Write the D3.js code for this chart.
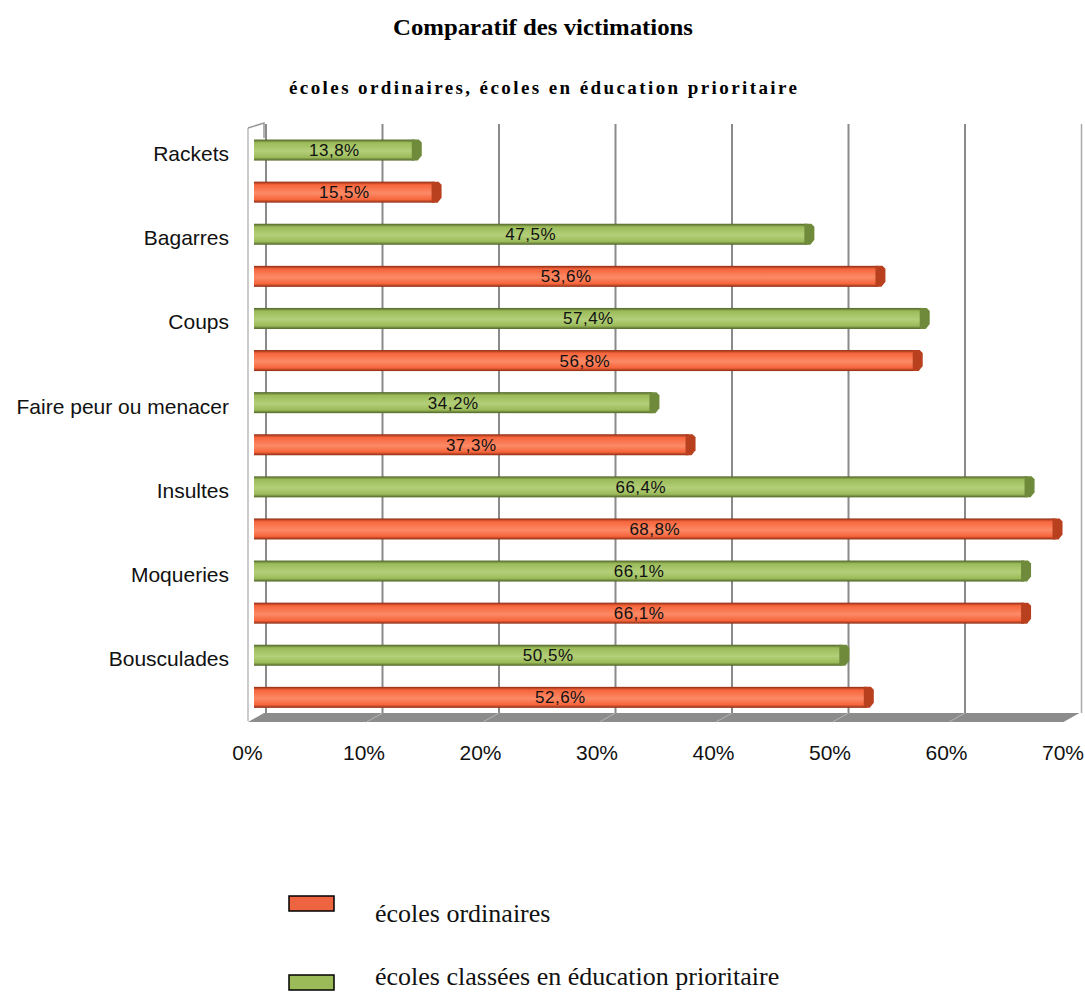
<!DOCTYPE html>
<html>
<head>
<meta charset="utf-8">
<script src="https://cdn.jsdelivr.net/npm/d3@7"></script>
<style>
  body { margin: 0; background: #fff; }
</style>
</head>
<body>
<div id="chart"></div>
<script>
// data
var categories = ["Rackets", "Bagarres", "Coups", "Faire peur ou menacer", "Insultes", "Moqueries", "Bousculades"];
var prioritaire = [13.8, 47.5, 57.4, 34.2, 66.4, 66.1, 50.5];
var ordinaires = [15.5, 53.6, 56.8, 37.3, 68.8, 66.1, 52.6];
var seriesNames = ["écoles classées en éducation prioritaire", "écoles ordinaires"];
var tickValues = [0, 10, 20, 30, 40, 50, 60, 70];

var width = 1085,
    height = 992,
    floorY = 713;

var svg = d3.select("#chart").append("svg")
    .attr("width", width)
    .attr("height", height);

var x = d3.scaleLinear()
    .domain([0, 70])
    .range([254, 1069.5]);

var y = d3.scaleBand()
    .domain(categories)
    .range([129, 718.4])
    .paddingInner(0)
    .paddingOuter(0);

var y1 = d3.scaleBand()
    .domain(["prio", "ord"])
    .range([0, y.bandwidth()]);

var colors = {
    prio: { fill: "#9bbb59", light: "#b3cf79", dark: "#4f6228", cap: "#6e8a3a" },
    ord: { fill: "#f7653c", light: "#fb8a66", dark: "#8b2b12", cap: "#b8401f" }
};

var defs = svg.append("defs");
["prio", "ord"].forEach(function(k) {
    var g = defs.append("linearGradient")
        .attr("id", "grad-" + k)
        .attr("x1", 0).attr("y1", 0).attr("x2", 0).attr("y2", 1);
    g.append("stop").attr("offset", "0%").attr("stop-color", colors[k].dark);
    g.append("stop").attr("offset", "15%").attr("stop-color", colors[k].fill);
    g.append("stop").attr("offset", "55%").attr("stop-color", colors[k].light);
    g.append("stop").attr("offset", "85%").attr("stop-color", colors[k].fill);
    g.append("stop").attr("offset", "100%").attr("stop-color", colors[k].dark);
});

// titles
svg.append("text")
    .attr("x", 543)
    .attr("y", 35)
    .attr("text-anchor", "middle")
    .attr("font-family", "Liberation Serif, Times New Roman, serif")
    .attr("font-weight", "bold")
    .attr("font-size", 23)
    .attr("textLength", 300)
    .attr("lengthAdjust", "spacingAndGlyphs")
    .text("Comparatif des victimations");

svg.append("text")
    .attr("x", 543)
    .attr("y", 94)
    .attr("text-anchor", "middle")
    .attr("font-family", "Liberation Serif, Times New Roman, serif")
    .attr("font-weight", "bold")
    .attr("font-size", 19)
    .attr("textLength", 508)
    .text("écoles ordinaires, écoles en éducation prioritaire");

// back wall + floor
var plotTop = y.range()[0] - 5;
var x0 = x(0), xEnd = x(70);

svg.append("path")
    .attr("d", "M" + (x0 - 6) + "," + (plotTop + 4) + " L" + (x0 + 10) + "," + (plotTop - 1) +
        " L" + (x0 + 10) + "," + (plotTop + 14))
    .attr("fill", "none")
    .attr("stroke", "#999")
    .attr("stroke-width", 1.5);

svg.append("line")
    .attr("x1", x0 - 6).attr("x2", x0 - 6)
    .attr("y1", plotTop + 4).attr("y2", floorY + 8)
    .attr("stroke", "#999");

svg.append("path")
    .attr("d", "M" + (x0 + 10) + "," + floorY + " L" + (xEnd + 10) + "," + floorY +
        " L" + (xEnd - 6) + "," + (floorY + 9) + " L" + (x0 - 6) + "," + (floorY + 9) + " Z")
    .attr("fill", "#8c8c8c");

svg.selectAll(".floorTick")
    .data(tickValues.slice(1, -1))
    .enter().append("line")
    .attr("class", "floorTick")
    .attr("x1", function(d) { return x(d) + 12; })
    .attr("x2", function(d) { return x(d) - 4; })
    .attr("y1", floorY)
    .attr("y2", floorY + 9)
    .attr("stroke", "#b5b5b5");

svg.selectAll(".grid")
    .data(tickValues)
    .enter().append("line")
    .attr("class", "grid")
    .attr("x1", function(d) { return x(d) + 12; })
    .attr("x2", function(d) { return x(d) + 12; })
    .attr("y1", plotTop)
    .attr("y2", floorY)
    .attr("stroke", function(d) { return d === 70 ? "#aaa" : "#8a8a8a"; })
    .attr("stroke-width", function(d) { return d === 70 ? 1.5 : 2; });

// bars
var rows = [];
categories.forEach(function(c, i) {
    rows.push({ cat: c, key: "prio", value: prioritaire[i] });
    rows.push({ cat: c, key: "ord", value: ordinaires[i] });
});

var barH = 21;
function barTop(d) {
    return y(d.cat) + y1(d.key) + (y1.bandwidth() - barH) / 2;
}

var bars = svg.selectAll(".bar")
    .data(rows)
    .enter().append("g")
    .attr("class", "bar");

bars.append("rect")
    .attr("x", x(0))
    .attr("y", barTop)
    .attr("width", function(d) { return x(d.value) - x(0); })
    .attr("height", barH)
    .attr("fill", function(d) { return "url(#grad-" + d.key + ")"; });

// end caps for the 3D look
bars.append("path")
    .attr("d", function(d) {
        var xe = x(d.value), t = barTop(d), b = t + barH;
        return "M" + (xe - 3) + "," + t + " L" + (xe + 4) + "," + t +
            " L" + (xe + 7) + "," + (t + 3) + " L" + (xe + 7) + "," + (b - 5) +
            " L" + (xe + 3) + "," + b + " L" + (xe - 3) + "," + b + " Z";
    })
    .attr("fill", function(d) { return colors[d.key].cap; });

bars.append("text")
    .attr("x", function(d) { return (x(0) + x(d.value)) / 2; })
    .attr("y", function(d) { return barTop(d) + barH / 2 + 6; })
    .attr("text-anchor", "middle")
    .attr("font-family", "Liberation Sans, Arial, sans-serif")
    .attr("font-size", 17)
    .attr("letter-spacing", 0.5)
    .attr("fill", "#111")
    .text(function(d) { return d.value.toFixed(1).replace(".", ",") + "%"; });

// category labels
svg.selectAll(".catLabel")
    .data(categories)
    .enter().append("text")
    .attr("class", "catLabel")
    .attr("x", 229)
    .attr("y", function(d) { return y(d) + y1("prio") + y1.bandwidth() / 2 + 11; })
    .attr("text-anchor", "end")
    .attr("font-family", "Liberation Sans, Arial, sans-serif")
    .attr("font-size", 21)
    .attr("fill", "#111")
    .text(function(d) { return d; });

// x axis labels
var xAxis = d3.axisBottom(x)
    .tickValues(tickValues)
    .tickSize(0)
    .tickPadding(0)
    .tickFormat(function(d) { return d + "%"; });

var axisG = svg.append("g")
    .attr("transform", "translate(-7," + 745 + ")")
    .call(xAxis);
axisG.select(".domain").remove();
axisG.selectAll("text")
    .attr("font-family", "Liberation Sans, Arial, sans-serif")
    .attr("font-size", 21)
    .attr("fill", "#111");

// legend
var legendItems = [
    { key: "ord", label: seriesNames[1], ry: 896, ty: 922 },
    { key: "prio", label: seriesNames[0], ry: 975, ty: 985 }
];
var legend = svg.selectAll(".legend")
    .data(legendItems)
    .enter().append("g")
    .attr("class", "legend");

legend.append("rect")
    .attr("x", 289)
    .attr("y", function(d) { return d.ry; })
    .attr("width", 45)
    .attr("height", 15)
    .attr("fill", function(d) { return d.key === "ord" ? "#ef6440" : "#9bbb59"; })
    .attr("stroke", "#000")
    .attr("stroke-width", 1.5);

legend.append("text")
    .attr("x", 375)
    .attr("y", function(d) { return d.ty; })
    .attr("font-family", "Liberation Serif, Times New Roman, serif")
    .attr("font-size", 26)
    .attr("fill", "#111")
    .text(function(d) { return d.label; });
</script>
</body>
</html>
